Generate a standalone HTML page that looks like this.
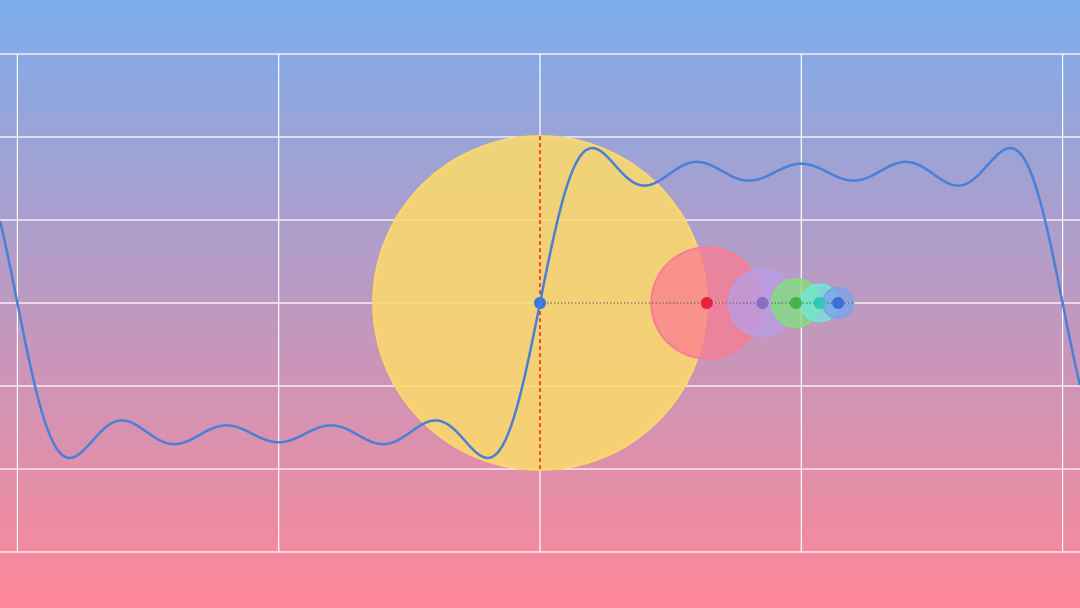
<!DOCTYPE html>
<html><head><meta charset="utf-8"><style>
html,body{margin:0;padding:0;width:1080px;height:608px;overflow:hidden}
svg{display:block}
</style></head>
<body>
<svg id="chart" width="1080" height="608" xmlns="http://www.w3.org/2000/svg">
<defs>
<linearGradient id="bg" x1="0" y1="0" x2="0" y2="1">
<stop offset="0" stop-color="#7caceb"/>
<stop offset="1" stop-color="#fe8797"/>
</linearGradient>
</defs>
<rect x="0" y="0" width="1080" height="608" fill="url(#bg)"/>
<g id="grid"></g>
<g id="circles"></g>
<g id="curve"></g>
</svg>
<script>
const harmonics = [1, 3, 5, 7, 9, 11];
const amplitudes = [2.01, 0.67, 0.402, 0.287, 0.223, 0.183];
const curveTerms = 5;
const circleColors = ['#fbd86c', '#fa7c92', '#b89ce6', '#7fe07a', '#6fe8d8', '#7aa3ea'];
const circleOpacity = [0.88, 0.75, 0.75, 0.75, 0.75, 0.75];
const dotColors = ['#3a78d8', '#e8213f', '#8a6dc4', '#45b34a', '#35c4b8', '#3a6fd8'];
const xTicks = [-2, -1, 0, 1, 2];
const yTicks = [3, 2, 1, 0, -1, -2, -3];
const phase = 0;

const X0 = 540, XU = 261.3, Y0 = 303, YU = 83;
const xs = t => X0 + t * XU;
const ys = v => Y0 - v * YU;
const NS = 'http://www.w3.org/2000/svg';
function mk(tag, attrs, parent) {
  const e = document.createElementNS(NS, tag);
  for (const k in attrs) e.setAttribute(k, attrs[k]);
  parent.appendChild(e);
  return e;
}
const grid = document.getElementById('grid');
yTicks.forEach(v => {
  const l = mk('line', {x1: 0, x2: 1080, y1: ys(v), y2: ys(v), stroke: '#fff', 'stroke-width': 1.2}, grid);
  
  
});
xTicks.forEach(t => {
  const l = mk('line', {x1: xs(t), x2: xs(t), y1: ys(3), y2: ys(-3), stroke: '#fff', 'stroke-width': 1.2}, grid);
  
  
});

function f(t) {
  let s = 0;
  for (let i = 0; i < curveTerms; i++) s += amplitudes[i] * Math.sin(harmonics[i] * (t * Math.PI / 2 + phase));
  return s;
}
const pts = [];
for (let px = 0; px <= 1080; px += 1) {
  const t = (px - X0) / XU;
  pts.push(px + ',' + ys(f(t)).toFixed(2));
}
const curveG = document.getElementById('curve');
const path = mk('polyline', {points: pts.join(' '), fill: 'none', stroke: '#4a7fd8', 'stroke-width': 2.5}, curveG);



const cg = document.getElementById('circles');
let cx = 0, cy = 0;
const centers = [];
for (let i = 0; i < harmonics.length; i++) {
  centers.push([cx, cy]);
  const r = amplitudes[i] * YU;
  const c = mk('circle', {cx: xs(0) + cx * YU, cy: ys(cy), r: r, fill: circleColors[i], 'fill-opacity': circleOpacity[i], stroke: circleColors[i], 'stroke-width': 2}, cg);
  
  
  cx += amplitudes[i] * Math.cos(harmonics[i] * phase);
  cy += amplitudes[i] * Math.sin(harmonics[i] * phase);
}
const dl = mk('line', {x1: xs(0), y1: ys(0), x2: xs(0) + cx * YU, y2: ys(cy), stroke: '#555', 'stroke-width': 1, 'stroke-dasharray': '1.5,2'}, cg);


const vl = mk('line', {x1: xs(0), x2: xs(0), y1: ys(amplitudes[0]), y2: ys(-amplitudes[0]), stroke: '#f00', 'stroke-width': 1.3, 'stroke-dasharray': '4,3'}, cg);


centers.forEach((p, i) => {
  const d = mk('circle', {cx: xs(0) + p[0] * YU, cy: ys(p[1]), r: 6, fill: dotColors[i]}, cg);
  
  
});
</script>
</body></html>
